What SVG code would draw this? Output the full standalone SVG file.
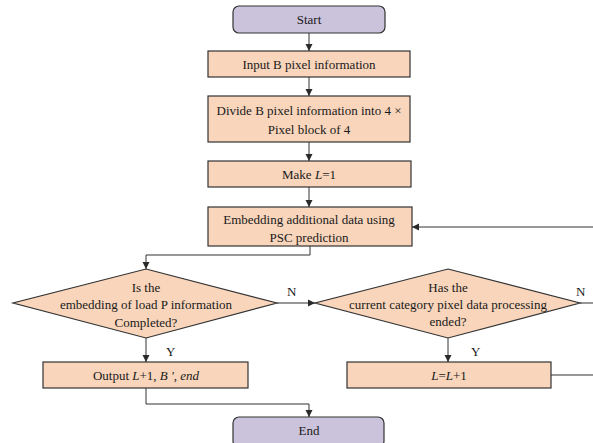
<svg xmlns="http://www.w3.org/2000/svg" width="593" height="443" viewBox="0 0 593 443">
<defs>
<marker id="ah" markerWidth="8" markerHeight="8" refX="7" refY="4" orient="auto" markerUnits="userSpaceOnUse">
<path d="M0,0.5 L7,4 L0,7.5 Z" fill="#2a2a2a"/>
</marker>
</defs>
<style>
.box{fill:#F8D5BB;stroke:#333;stroke-width:1.2}
.term{fill:#CBC3DC;stroke:#333;stroke-width:1.2}
.t{font-family:"Liberation Serif","Times New Roman",serif;font-size:13px;fill:#1a1a1a;text-anchor:middle}
.lbl{font-family:"Liberation Serif","Times New Roman",serif;font-size:13px;fill:#1a1a1a}
.c{fill:none;stroke:#333;stroke-width:1}
.a{marker-end:url(#ah)}
</style>
<rect width="593" height="443" fill="#fff"/>
<g id="start"><rect class="term" x="233" y="6" width="152" height="27" rx="6"/><text class="t" x="309" y="24">Start</text></g>
<g id="input"><rect class="box" x="208" y="51" width="202" height="26"/><text class="t" x="309" y="68.5">Input B pixel information</text></g>
<g id="divide"><rect class="box" x="208" y="96" width="202" height="46"/><text class="t" x="309" y="114.5">Divide B pixel information into 4 ×</text><text class="t" x="309" y="133.5">Pixel block of 4</text></g>
<g id="make"><rect class="box" x="208" y="161" width="203" height="26"/><text class="t" x="309" y="178.5">Make <tspan font-style="italic">L</tspan>=1</text></g>
<g id="embed"><rect class="box" x="208" y="207" width="204" height="39"/><text class="t" x="309" y="223.5">Embedding additional data using</text><text class="t" x="309" y="241.5">PSC prediction</text></g>
<g id="dec1"><polygon class="box" points="146,269 277,303 146,338 13,303"/><text class="t" x="146" y="291.5">Is the</text><text class="t" x="146" y="308.5">embedding of load P information</text><text class="t" x="146" y="326.5">Completed?</text></g>
<g id="dec2"><polygon class="box" points="448,269 580,303 448,338 315,303"/><text class="t" x="448" y="291.5">Has the</text><text class="t" x="448" y="308.5">current category pixel data processing</text><text class="t" x="448" y="325.5">ended?</text></g>
<g id="output"><rect class="box" x="43" y="362" width="205" height="26"/><text class="t" x="146" y="379.5">Output <tspan font-style="italic">L</tspan>+1, <tspan font-style="italic">B '</tspan>, <tspan font-style="italic">end</tspan></text></g>
<g id="incr"><rect class="box" x="347" y="362" width="204" height="26"/><text class="t" x="449" y="379.5" font-style="italic">L<tspan font-style="normal">=</tspan>L<tspan font-style="normal">+1</tspan></text></g>
<g id="end"><rect class="term" x="233" y="417" width="151" height="30" rx="6"/><text class="t" x="309" y="434.5">End</text></g>
<g id="connectors">
<line class="c a" x1="309" y1="33" x2="309" y2="51"/>
<line class="c a" x1="309" y1="77" x2="309" y2="96"/>
<line class="c a" x1="309" y1="142" x2="309" y2="161"/>
<line class="c a" x1="309" y1="187" x2="309" y2="207"/>
<polyline class="c a" points="310,246 310,255 146,255 146,269"/>
<line class="c a" x1="277" y1="303" x2="315" y2="303"/>
<line class="c" x1="580" y1="303" x2="593" y2="303"/>
<line class="c a" x1="146" y1="338" x2="146" y2="362"/>
<line class="c a" x1="448" y1="338" x2="448" y2="362"/>
<line class="c" x1="551" y1="375" x2="593" y2="375"/>
<line class="c a" x1="593" y1="227" x2="412" y2="227"/>
<polyline class="c a" points="146,388 146,404 309,404 309,417"/>
<text class="lbl" x="287" y="296">N</text>
<text class="lbl" x="576" y="296">N</text>
<text class="lbl" x="166" y="356">Y</text>
<text class="lbl" x="471" y="356">Y</text>
</g>
</svg>
